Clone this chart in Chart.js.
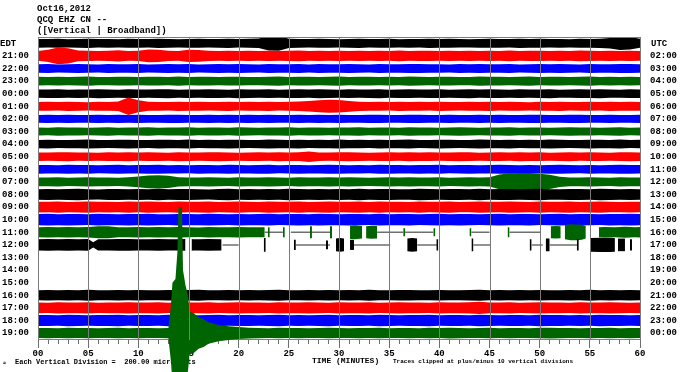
<!DOCTYPE html>
<html>
<head>
<meta charset="utf-8">
<script src="https://cdn.jsdelivr.net/npm/chart.js@4.4.1/dist/chart.umd.min.js"></script>
<style>
  html, body { margin: 0; padding: 0; background: #fff; }
</style>
</head>
<body>
<canvas id="heli" width="700" height="372"></canvas>
<script>
// Helicorder page: QCQ EHZ CN, Oct 16 2012 - one trace per hour, peak amplitude (microvolts) per minute
const edtLabels = ['', '21:00', '22:00', '23:00', '00:00', '01:00', '02:00', '03:00', '04:00', '05:00', '06:00', '07:00',
  '08:00', '09:00', '10:00', '11:00', '12:00', '13:00', '14:00', '15:00', '16:00', '17:00', '18:00', '19:00'];
const utcLabels = ['', '02:00', '03:00', '04:00', '05:00', '06:00', '07:00', '08:00', '09:00', '10:00', '11:00', '12:00',
  '13:00', '14:00', '15:00', '16:00', '17:00', '18:00', '19:00', '20:00', '21:00', '22:00', '23:00', '00:00'];
const tickMinutes = [0, 5, 10, 15, 20, 25, 30, 35, 40, 45, 50, 55, 60];
const tickLabels = ['00', '05', '10', '15', '20', '25', '30', '35', '40', '45', '50', '55', '60'];
const uvPerDivision = 200;

const minutes = [0, 1, 2, 3, 4, 5, 6, 7, 8, 9, 10, 11, 12, 13, 14, 15, 16, 17, 18, 19, 20, 21, 22, 23, 24, 25, 26, 27, 28, 29,
  30, 31, 32, 33, 34, 35, 36, 37, 38, 39, 40, 41, 42, 43, 44, 45, 46, 47, 48, 49, 50, 51, 52, 53, 54, 55, 56, 57, 58, 59, 60];

const h20 = [70, 68, 72, 66, 70, 74, 68, 70, 66, 72,
  70, 68, 74, 70, 66, 70, 72, 68, 70, 74,
  68, 72, 76, 115, 120, 74, 70, 68, 72, 70,
  66, 70, 74, 68, 70, 72, 66, 70, 68, 74,
  70, 72, 68, 66, 70, 72, 70, 68, 74, 70,
  72, 68, 70, 66, 72, 70, 74, 84, 108, 100, 72];
const h21 = [78, 96, 132, 120, 84, 80, 76, 82, 88, 78,
  80, 102, 98, 80, 76, 96, 92, 80, 78, 82,
  76, 80, 78, 82, 76, 80, 84, 78, 80, 76,
  80, 78, 82, 76, 80, 78, 84, 76, 80, 82,
  78, 80, 76, 82, 78, 80, 76, 84, 78, 80,
  82, 76, 80, 78, 84, 80, 76, 82, 78, 80, 78];
const h22 = [66, 70, 64, 68, 72, 66, 64, 70, 68, 66,
  70, 64, 68, 72, 66, 70, 64, 68, 70, 66,
  72, 68, 64, 70, 66, 68, 72, 64, 70, 68,
  66, 72, 68, 64, 70, 66, 68, 70, 72, 66,
  68, 64, 70, 66, 72, 68, 66, 70, 64, 68,
  70, 66, 72, 68, 64, 70, 68, 66, 72, 70, 68];
const h23 = [68, 64, 70, 66, 68, 72, 64, 66, 70, 68,
  64, 70, 68, 66, 72, 64, 68, 70, 66, 68,
  70, 66, 64, 68, 72, 66, 70, 68, 64, 70,
  72, 66, 68, 70, 64, 68, 66, 72, 70, 64,
  68, 70, 66, 64, 72, 68, 70, 66, 68, 72,
  64, 68, 70, 66, 68, 72, 66, 70, 64, 68, 66];
const h00 = [66, 68, 70, 64, 68, 66, 72, 68, 64, 70,
  68, 66, 70, 72, 64, 68, 66, 70, 68, 64,
  72, 68, 66, 70, 64, 68, 70, 66, 72, 68,
  64, 70, 66, 68, 72, 64, 68, 70, 66, 68,
  70, 64, 68, 72, 66, 70, 68, 64, 70, 66,
  68, 72, 64, 66, 70, 68, 72, 66, 64, 70, 68];
const h01 = [70, 72, 68, 74, 70, 66, 72, 70, 76, 140,
  96, 72, 70, 68, 74, 70, 72, 68, 70, 74,
  68, 72, 70, 74, 68, 72, 76, 84, 96, 104,
  98, 86, 74, 70, 72, 68, 74, 70, 72, 68,
  74, 70, 68, 72, 70, 74, 68, 72, 70, 66,
  72, 70, 74, 68, 70, 72, 68, 74, 70, 72, 70];
const h02 = [62, 64, 60, 66, 62, 60, 64, 62, 66, 60,
  64, 62, 60, 66, 64, 62, 60, 64, 62, 66,
  60, 64, 62, 66, 60, 62, 64, 60, 66, 62,
  64, 60, 62, 66, 64, 62, 60, 64, 66, 62,
  60, 64, 62, 60, 66, 62, 64, 60, 62, 66,
  64, 62, 60, 64, 66, 62, 60, 64, 62, 60, 64];
const h03 = [62, 60, 66, 62, 64, 60, 62, 66, 60, 64,
  62, 66, 60, 62, 64, 66, 60, 62, 64, 60,
  66, 62, 60, 64, 62, 66, 60, 64, 62, 60,
  64, 62, 66, 60, 62, 64, 60, 66, 62, 64,
  60, 62, 66, 64, 60, 62, 64, 66, 60, 62,
  64, 60, 62, 66, 62, 64, 60, 62, 66, 60, 62];
const h04 = [66, 70, 64, 66, 68, 72, 66, 64, 68, 70,
  66, 64, 70, 68, 66, 72, 64, 68, 66, 70,
  68, 64, 66, 72, 68, 66, 70, 64, 68, 66,
  72, 66, 68, 64, 70, 66, 68, 72, 64, 66,
  70, 68, 64, 66, 72, 68, 66, 70, 64, 68,
  66, 72, 68, 64, 66, 70, 68, 66, 72, 64, 68];
const h05 = [68, 66, 70, 72, 66, 68, 64, 70, 68, 72,
  66, 70, 68, 64, 72, 68, 66, 70, 72, 68,
  64, 68, 70, 66, 72, 68, 70, 84, 68, 66,
  70, 72, 68, 64, 68, 70, 66, 72, 68, 70,
  66, 68, 72, 70, 64, 68, 70, 66, 72, 68,
  70, 64, 68, 72, 66, 70, 68, 64, 70, 72, 68];
const h06 = [70, 68, 66, 72, 68, 70, 64, 68, 72, 66,
  68, 70, 72, 66, 68, 64, 70, 68, 66, 72,
  68, 66, 70, 72, 64, 68, 70, 66, 68, 72,
  70, 66, 68, 64, 72, 70, 68, 66, 70, 68,
  72, 64, 68, 70, 66, 68, 72, 70, 64, 68,
  66, 70, 72, 68, 64, 70, 66, 68, 72, 70, 68];
const h07 = [70, 68, 72, 66, 70, 74, 68, 70, 66, 72,
  86, 100, 104, 96, 74, 70, 68, 72, 70, 66,
  72, 70, 68, 74, 70, 66, 72, 68, 70, 74,
  68, 72, 70, 66, 70, 74, 68, 72, 70, 68,
  72, 66, 70, 74, 68, 72, 116, 138, 142, 140,
  130, 112, 82, 70, 68, 72, 70, 66, 72, 70, 68];
const h08 = [84, 88, 82, 86, 90, 84, 80, 86, 88, 82,
  86, 84, 90, 82, 86, 88, 84, 80, 86, 90,
  84, 88, 82, 86, 84, 90, 86, 82, 88, 84,
  86, 82, 90, 84, 88, 86, 82, 84, 90, 86,
  84, 88, 86, 82, 90, 84, 86, 88, 82, 86,
  90, 84, 82, 88, 86, 84, 90, 86, 82, 88, 84];
const h09 = [86, 84, 88, 82, 86, 90, 84, 86, 82, 88,
  84, 90, 86, 82, 88, 84, 86, 90, 82, 86,
  88, 84, 82, 90, 86, 84, 88, 82, 86, 90,
  84, 86, 88, 82, 90, 84, 86, 82, 88, 84,
  86, 90, 82, 84, 88, 86, 84, 90, 86, 82,
  88, 84, 86, 90, 82, 86, 88, 84, 82, 86, 84];
const h10 = [90, 94, 88, 92, 90, 86, 94, 90, 88, 92,
  90, 94, 88, 86, 92, 90, 88, 94, 90, 86,
  92, 88, 90, 94, 86, 90, 92, 88, 94, 90,
  88, 92, 90, 86, 94, 88, 90, 92, 86, 90,
  94, 88, 92, 90, 86, 90, 94, 88, 90, 92,
  86, 90, 94, 88, 92, 90, 86, 92, 90, 94, 90];

// 11:00 and 12:00 have data gaps (null) and short fragments
const h11Min = [0, 1, 2, 3, 4, 5, 6, 7, 8, 9, 10, 11, 12, 13, 14, 15, 16, 17, 18, 19, 20, 21, 22, 22.6, 22.8,
  22.9, 23.1, 23.3, 24.4, 24.6, 24.8, 27.1, 27.3, 27.5, 29.1, 29.3, 30,
  31.1, 31.6, 32.3, 32.5, 32.7, 33.2, 33.8, 34, 36.4, 36.6, 37, 39.4, 39.6, 41, 43.0, 43.2, 45, 46.8, 47.0, 48,
  51.1, 51.6, 52.1, 52.3, 52.5, 53.1, 53.7, 54.2, 54.6, 55, 55.9, 56.5, 57.5, 58.5, 59.5, 60];
const h11Amp = [80, 82, 78, 84, 80, 82, 96, 94, 80, 78, 82, 80, 84, 78, 82, 80, 76, 82, 80, 78, 82, 80, 78, 80, null,
  80, 80, null, 80, 80, null, 95, 95, null, 95, 95, null,
  105, 112, 100, null, 96, 104, 98, null, 65, 65, null, 65, 65, null, 65, 65, null, 80, 80, null,
  95, 100, 95, null, 110, 128, 125, 118, 100, null, 80, 84, 78, 86, 80, 82];
const h12Min = [0, 1, 2, 3, 4, 5, 5.5, 6, 7, 8, 9, 10, 11, 12, 13, 14, 14.7, 14.8, 15.3, 15.5, 16, 17, 18.3, 18.4,
  22.5, 22.7, 23, 25.5, 25.7, 26, 28.7, 28.9, 29.1, 29.7, 30.1, 30.5, 30.8, 31.1, 31.5, 32,
  36.8, 37.3, 37.8, 38, 39.7, 39.9, 41, 43.2, 43.4, 45, 49, 49.2, 49.5, 50.6, 51, 51.5, 53.7, 53.9, 54.5,
  55.1, 56, 57, 57.5, 57.6, 57.8, 58.5, 58.8, 59, 59.2, 59.5];
const h12Amp = [90, 92, 88, 94, 90, 92, 40, 90, 88, 92, 94, 90, 88, 92, 90, 88, 92, null, 92, 90, 88, 92, 90, null,
  110, 110, null, 80, 80, null, 70, 70, null, 100, 110, 100, null, 80, 80, null,
  100, 110, 100, null, 90, 90, null, 100, 100, null, 90, 90, null, 100, 100, null, 90, 90, null,
  110, 115, 112, 110, null, 100, 100, null, 90, 90, null];
// gray lines drawn across the gaps
const h11GapStart = [22.6, 25.2, 33.8, 36.6, 43.2, 47.0];
const h11GapEnd = [24.4, 29.2, 36.4, 39.4, 45.0, 50.1];
const h12GapStart = [18.4, 25.7, 31.5, 37.8, 43.4, 49.2, 51.0];
const h12GapEnd = [20.0, 29.1, 35.1, 39.8, 45.1, 50.3, 53.8];

const h16 = [80, 84, 78, 82, 80, 86, 78, 80, 84, 78,
  82, 80, 78, 84, 80, 82, 86, 80, 78, 82,
  80, 84, 78, 82, 86, 80, 78, 84, 80, 82,
  78, 82, 80, 86, 78, 80, 84, 82, 78, 80,
  84, 80, 78, 82, 86, 80, 82, 78, 84, 80,
  82, 78, 80, 84, 80, 86, 78, 82, 80, 84, 80];
const h17 = [86, 82, 88, 84, 86, 90, 82, 86, 84, 88,
  84, 86, 90, 82, 88, 86, 84, 88, 82, 86,
  90, 84, 86, 82, 88, 86, 84, 90, 86, 82,
  88, 84, 86, 90, 82, 86, 88, 84, 86, 82,
  90, 86, 84, 88, 96, 86, 84, 90, 82, 86,
  88, 84, 86, 82, 90, 86, 84, 88, 86, 82, 86];
const h18 = [86, 88, 84, 90, 86, 82, 88, 86, 90, 84,
  88, 86, 82, 90, 86, 88, 84, 86, 90, 82,
  86, 88, 84, 86, 90, 84, 88, 82, 86, 90,
  84, 88, 86, 82, 90, 86, 84, 88, 86, 90,
  82, 86, 88, 84, 90, 86, 82, 88, 86, 84,
  90, 86, 88, 82, 86, 84, 90, 86, 88, 84, 86];
// 19:00 holds the earthquake, clipped at 10 divisions (2000 uV)
const h19Min = [0, 1, 2, 3, 4, 5, 6, 7, 8, 9, 10, 11, 12, 13,
  13.25, 13.4, 13.7, 13.9, 14.0, 14.35, 14.45, 14.7, 14.95, 15.1, 15.5, 16, 16.5, 17, 18, 19, 20, 21,
  22, 23, 24, 25, 26, 27, 28, 29, 30, 31, 32, 33, 34, 35, 36, 37, 38, 39, 40, 41,
  42, 43, 44, 45, 46, 47, 48, 49, 50, 51, 52, 53, 54, 55, 56, 57, 58, 59, 60];
const h19Amp = [80, 82, 78, 84, 80, 82, 78, 80, 84, 78, 82, 80, 78, 82,
  450, 800, 860, 1300, 2000, 2000, 1000, 760, 600, 340, 320, 250, 220, 170, 130, 110, 95, 85,
  82, 78, 84, 80, 82, 78, 80, 84, 80, 78, 82, 80, 84, 78, 80, 82, 78, 84, 80, 86,
  82, 78, 80, 84, 78, 82, 80, 78, 84, 86, 82, 80, 78, 82, 80, 84, 78, 82, 80, 78, 82];

const traces = [
  [minutes, h20], [minutes, h21], [minutes, h22], [minutes, h23], [minutes, h00], [minutes, h01],
  [minutes, h02], [minutes, h03], [minutes, h04], [minutes, h05], [minutes, h06], [minutes, h07],
  [minutes, h08], [minutes, h09], [minutes, h10], [h11Min, h11Amp], [h12Min, h12Amp],
  null, null, null,
  [minutes, h16], [minutes, h17], [minutes, h18], [h19Min, h19Amp]
];
const gaps = [[15, h11GapStart, h11GapEnd], [16, h12GapStart, h12GapEnd]];

const rowColors = ['#000000', '#ff0000', '#0000ff', '#006400'];
const axisRow = 23.55;
const monoFont = "'Liberation Mono', 'DejaVu Sans Mono', monospace";

// later rows go first so that they are drawn on top
const datasets = [];
for (let r = traces.length - 1; r >= 0; r--) {
  if (!traces[r]) continue;
  const [mins, amps] = traces[r];
  const color = rowColors[r % 4];
  const upper = mins.map((m, i) => ({x: m, y: amps[i] == null ? null : r - amps[i] / uvPerDivision}));
  const lower = mins.map((m, i) => ({x: m, y: amps[i] == null ? null : r + amps[i] / uvPerDivision}));
  datasets.push({data: upper, borderColor: color, backgroundColor: color, borderWidth: 0, fill: '+1'});
  datasets.push({data: lower, borderColor: color, backgroundColor: color, borderWidth: 0, fill: false});
}
gaps.forEach(([r, starts, ends]) => {
  const pts = [];
  starts.forEach((s, i) => pts.push({x: s, y: r}, {x: ends[i], y: r}, {x: ends[i], y: null}));
  datasets.push({data: pts, borderColor: '#6f6f6f', borderWidth: 1.5, fill: false});
});

const pageText = {
  id: 'pageText',
  beforeDatasetsDraw(chart) {
    const ctx = chart.ctx;
    ctx.save();
    ctx.fillStyle = '#000';
    ctx.textBaseline = 'middle';
    ctx.textAlign = 'left';
    ctx.font = 'bold 9px ' + monoFont;
    ctx.fillText('Oct16,2012', 37, 9);
    ctx.fillText('QCQ EHZ CN --', 37, 20);
    ctx.fillText('([Vertical | Broadband])', 37, 31);
    ctx.fillText('EDT', 0, 43.5);
    ctx.fillText('UTC', 651, 43.5);
    ctx.font = 'bold 7px ' + monoFont;
    ctx.fillText('Each Vertical Division =  200.00 microvolts', 15, 362);
    ctx.font = 'bold 8px ' + monoFont;
    ctx.fillText('TIME (MINUTES)', 312, 360.5);
    ctx.font = 'bold 6px ' + monoFont;
    ctx.fillText('Traces clipped at plus/minus 10 vertical divisions', 393, 361.5);
    ctx.fillText('\u2248', 3, 363);
    ctx.restore();
  },
  afterDatasetsDraw(chart) {
    const ctx = chart.ctx;
    const xs = chart.scales.x;
    const top = chart.chartArea.top;
    const base = chart.scales.y.getPixelForValue(axisRow);
    ctx.save();
    ctx.strokeStyle = '#7a7a7a';
    ctx.lineWidth = 1;
    ctx.beginPath();
    tickMinutes.forEach(m => {
      const px = Math.round(xs.getPixelForValue(m)) + 0.5;
      ctx.moveTo(px, top);
      ctx.lineTo(px, base);
    });
    ctx.moveTo(xs.getPixelForValue(0), top + 0.5);
    ctx.lineTo(xs.getPixelForValue(60), top + 0.5);
    ctx.stroke();
    ctx.restore();
  }
};

// keep the hour rows on a fixed pitch: no extra room for the end labels
const fixWidth = w => s => { s.width = w; s.paddingTop = 0; s.paddingBottom = 0; };

Chart.defaults.font.family = monoFont;
Chart.defaults.font.size = 9;
Chart.defaults.font.weight = 'bold';
Chart.defaults.color = '#000';

new Chart(document.getElementById('heli'), {
  type: 'line',
  data: {datasets: datasets},
  options: {
    responsive: false,
    devicePixelRatio: 1,
    animation: false,
    events: [],
    layout: {padding: {top: 37, left: 0, right: 0, bottom: 0}},
    elements: {
      point: {radius: 0},
      line: {tension: 0}
    },
    datasets: {line: {spanGaps: false, clip: false}},
    plugins: {legend: {display: false}, tooltip: {enabled: false}},
    scales: {
      x: {
        type: 'linear', min: 0, max: 60, position: {y: axisRow},
        afterBuildTicks: s => { s.ticks = tickMinutes.map(v => ({value: v})); },
        ticks: {callback: (v, i) => tickLabels[i], autoSkip: false, maxRotation: 0, padding: 0},
        grid: {drawOnChartArea: false, tickLength: 8, color: '#6e6e6e'},
        border: {display: true, color: '#808080'}
      },
      xMinor: {
        axis: 'x', type: 'linear', min: 0, max: 60, position: {y: axisRow},
        ticks: {stepSize: 1, display: false, autoSkip: false},
        grid: {drawOnChartArea: false, tickLength: 4, color: '#6e6e6e'},
        border: {display: false}
      },
      y: {
        type: 'linear', position: 'left', reverse: true, min: -0.5, max: 26.09,
        afterBuildTicks: s => { s.ticks = edtLabels.map((_, i) => ({value: i})); },
        afterFit: fixWidth(38),
        ticks: {callback: (v, i) => edtLabels[i], autoSkip: false, padding: 1},
        grid: {display: false},
        border: {display: false}
      },
      yRight: {
        type: 'linear', position: 'right', reverse: true, min: -0.5, max: 26.09,
        afterBuildTicks: s => { s.ticks = utcLabels.map((_, i) => ({value: i})); },
        afterFit: fixWidth(60),
        ticks: {callback: (v, i) => utcLabels[i], autoSkip: false, padding: 2},
        grid: {display: false},
        border: {display: false}
      }
    }
  },
  plugins: [pageText]
});
</script>
</body>
</html>
